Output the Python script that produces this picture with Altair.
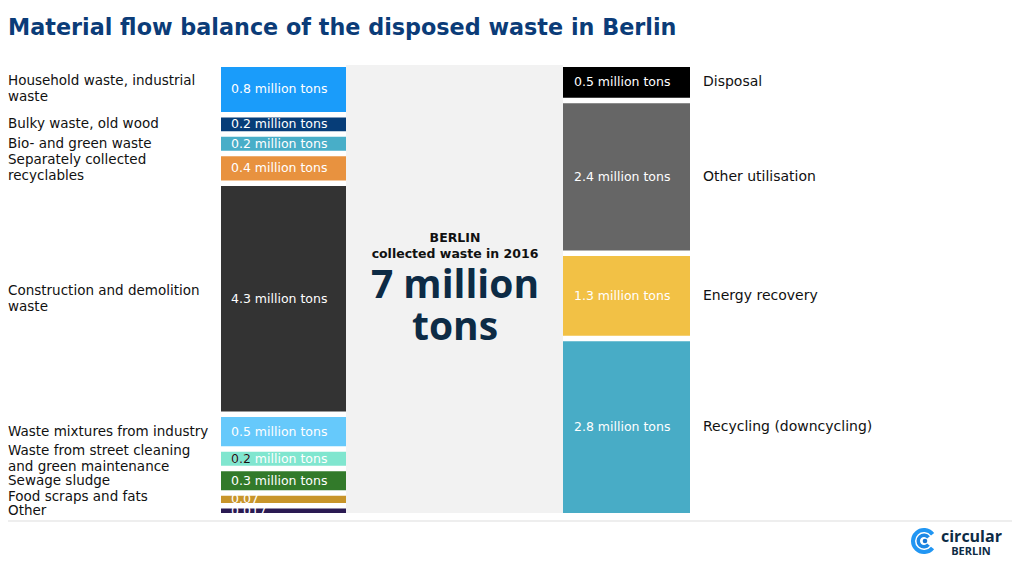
import math
import altair as alt
import pandas as pd

title_text = "Material flow balance of the disposed waste in Berlin"

left_categories = [
    "Household waste, industrial\nwaste",
    "Bulky waste, old wood",
    "Bio- and green waste",
    "Separately collected\nrecyclables",
    "Construction and demolition\nwaste",
    "Waste mixtures from industry",
    "Waste from street cleaning\nand green maintenance",
    "Sewage sludge",
    "Food scraps and fats",
    "Other",
]
left_values = [0.8, 0.2, 0.2, 0.4, 4.3, 0.5, 0.2, 0.3, 0.07, 0.017]
left_value_labels = [
    "0.8 million tons", "0.2 million tons", "0.2 million tons", "0.4 million tons",
    "4.3 million tons", "0.5 million tons", "0.2 million tons", "0.3 million tons",
    "0.07", "0.017",
]
left_dark_prefix = ["", "", "", "", "", "", "0.2", "", "", ""]
left_colors = ["#1a9cfa", "#063d78", "#48aec8", "#e8923f", "#333333",
               "#66c9fb", "#80e6cf", "#327a2a", "#c8952a", "#2a1a52"]

right_categories = ["Disposal", "Other utilisation", "Energy recovery", "Recycling (downcycling)"]
right_values = [0.5, 2.4, 1.3, 2.8]
right_value_labels = ["0.5 million tons", "2.4 million tons", "1.3 million tons", "2.8 million tons"]
right_colors = ["#000000", "#666666", "#f2c145", "#48acc6"]

center_small = ["BERLIN", "collected waste in 2016"]
center_big = ["7 million", "tons"]

logo_word = "circular"
logo_city = "BERLIN"

FONT = "DejaVu Sans"
BIG_FONT = "Open Sans"

Y_TOP, Y_BOT = 59, 505
SPAN = Y_BOT - Y_TOP
LINE_H = 16


def stack(values, extra, gap):
    w = [v + extra for v in values]
    k = (1 - gap * (len(w) - 1)) / sum(w)
    out = []
    y = 0.0
    for wi in w:
        h = wi * k
        out.append((y, y + h))
        y += h + gap
    return out


def first_line_positions(centers, nlines, line_px, min_px):
    """Center each label block on its bar, push blocks up where they would overlap,
    and return the position of each block's first line."""
    lh = line_px / SPAN
    mn = min_px / SPAN
    c = list(centers)
    for i in range(len(c) - 2, -1, -1):
        top_next = c[i + 1] - (nlines[i + 1] - 1) * lh / 2
        bot_this = c[i] + (nlines[i] - 1) * lh / 2
        if top_next - bot_this < mn:
            c[i] = top_next - mn - (nlines[i] - 1) * lh / 2
    return [ci - (n - 1) * lh / 2 for ci, n in zip(c, nlines)]


GAP = 5.5 / SPAN
lpos = stack(left_values, 0.07, GAP)
rpos = stack(right_values, 0.0, GAP)

left_df = pd.DataFrame({
    "category": left_categories,
    "value": left_values,
    "label": left_value_labels,
    "dark": left_dark_prefix,
    "color": left_colors,
    "y0": [p[0] for p in lpos],
    "y1": [p[1] for p in lpos],
})
left_df["ym"] = (left_df["y0"] + left_df["y1"]) / 2
left_df["ylab"] = first_line_positions(
    list(left_df["ym"]), [s.count("\n") + 1 for s in left_categories], LINE_H, 13.5)

right_df = pd.DataFrame({
    "category": right_categories,
    "value": right_values,
    "label": right_value_labels,
    "color": right_colors,
    "y0": [p[0] for p in rpos],
    "y1": [p[1] for p in rpos],
})
right_df["ym"] = (right_df["y0"] + right_df["y1"]) / 2

yscale = alt.Scale(domain=[0, 1], range=[Y_TOP, Y_BOT])
Y = lambda f: alt.Y(f, type="quantitative", scale=yscale, axis=None)
Y2 = lambda f: alt.Y2(f)

one = alt.Data(values=[{"a": 1}])

panel = alt.Chart(one).mark_rect(color="#f2f2f2").encode(
    x=alt.value(338), x2=alt.value(555), y=alt.value(57), y2=alt.value(505))

baseline = alt.Chart(one).mark_rule(color="#eeeeee", strokeWidth=2).encode(
    x=alt.value(0), x2=alt.value(1004), y=alt.value(513))

left_bars = alt.Chart(left_df).mark_rect().encode(
    x=alt.value(213), x2=alt.value(338), y=Y("y0"), y2=Y2("y1"),
    color=alt.Color("color:N", scale=None))

right_bars = alt.Chart(right_df).mark_rect().encode(
    x=alt.value(555), x2=alt.value(682), y=Y("y0"), y2=Y2("y1"),
    color=alt.Color("color:N", scale=None))

left_vals = alt.Chart(left_df).mark_text(
    align="left", baseline="middle", font=FONT, fontSize=12.5, color="#ffffff").encode(
    x=alt.value(223), y=Y("ym"), text="label:N")

left_dark = alt.Chart(left_df).mark_text(
    align="left", baseline="middle", font=FONT, fontSize=12.5, color="#111111").encode(
    x=alt.value(223), y=Y("ym"), text="dark:N")

right_vals = alt.Chart(right_df).mark_text(
    align="left", baseline="middle", font=FONT, fontSize=12.5, color="#ffffff").encode(
    x=alt.value(566), y=Y("ym"), text="label:N")

left_names = alt.Chart(left_df).mark_text(
    align="left", baseline="middle", font=FONT, fontSize=13.5, lineHeight=LINE_H,
    lineBreak="\n", color="#111111").encode(
    x=alt.value(0), y=Y("ylab"), text="category:N")

right_names = alt.Chart(right_df).mark_text(
    align="left", baseline="middle", font=FONT, fontSize=14, color="#111111").encode(
    x=alt.value(695), y=Y("ym"), text="category:N")

title = alt.Chart(one).mark_text(
    text=title_text, align="left", baseline="middle", font=FONT, fontSize=22.3,
    fontWeight="bold", color="#0b3c78").encode(x=alt.value(0), y=alt.value(20))

c1 = alt.Chart(one).mark_text(
    text=center_small[0], align="center", baseline="middle", font=FONT, fontSize=12.5,
    fontWeight="bold", color="#111111").encode(x=alt.value(447), y=alt.value(230))
c2 = alt.Chart(one).mark_text(
    text=center_small[1], align="center", baseline="middle", font=FONT, fontSize=12.5,
    fontWeight="bold", color="#111111").encode(x=alt.value(447), y=alt.value(246))
c3 = alt.Chart(one).mark_text(
    text=center_big[0], align="center", baseline="middle", font=BIG_FONT, fontSize=39,
    fontWeight="bold", color="#0d2b45").encode(x=alt.value(447), y=alt.value(278))
c4 = alt.Chart(one).mark_text(
    text=center_big[1], align="center", baseline="middle", font=BIG_FONT, fontSize=39,
    fontWeight="bold", color="#0d2b45").encode(x=alt.value(447), y=alt.value(320))

TWO_PI = 2 * math.pi
outer = alt.Chart(one).mark_arc(
    radius=13, radius2=9, theta=2.25, theta2=TWO_PI + 0.9, color="#2196f3").encode(
    x=alt.value(916), y=alt.value(533))
inner = alt.Chart(one).mark_arc(
    radius=7.5, radius2=4, theta=2.25, theta2=TWO_PI + 0.9, color="#1e88e5").encode(
    x=alt.value(916), y=alt.value(533))
dot = alt.Chart(one).mark_arc(
    radius=2.3, radius2=0, theta=0, theta2=TWO_PI, color="#1976d2").encode(
    x=alt.value(917), y=alt.value(533))
logo1 = alt.Chart(one).mark_text(
    text=logo_word, align="left", baseline="middle", font=BIG_FONT, fontSize=16,
    fontWeight="bold", color="#0d2b45").encode(x=alt.value(933), y=alt.value(529))
logo2 = alt.Chart(one).mark_text(
    text=logo_city, align="center", baseline="middle", font=BIG_FONT, fontSize=11,
    fontWeight="bold", color="#0d2b45").encode(x=alt.value(963), y=alt.value(544))

chart = alt.layer(
    panel, baseline, left_bars, right_bars, left_vals, left_dark, right_vals,
    left_names, right_names, title, c1, c2, c3, c4, outer, inner, dot, logo1, logo2
).properties(
    width=1008, height=550, padding=0, background="#ffffff",
    autosize=alt.AutoSizeParams(type="none")
).configure_view(stroke=None)

chart.save("out.html", embed_options={"renderer": "svg", "actions": False})
